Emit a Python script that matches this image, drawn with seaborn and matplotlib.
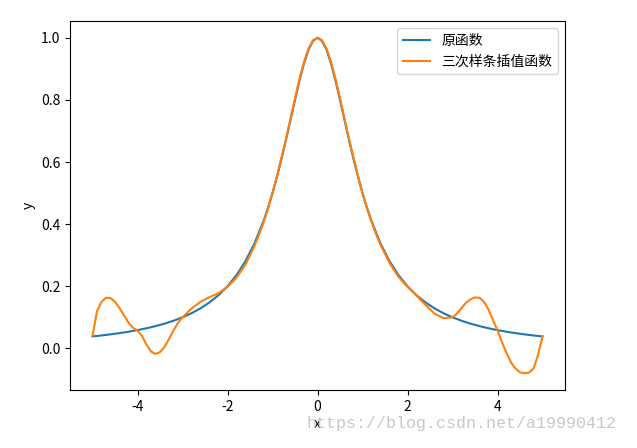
import matplotlib
matplotlib.use("Agg")
import matplotlib.pyplot as plt
import seaborn as sns

# original function
orig_x = [-5.0, -4.8, -4.6, -4.4, -4.2, -4.0, -3.8, -3.6, -3.4, -3.2,
          -3.0, -2.8, -2.6, -2.4, -2.2, -2.0, -1.8, -1.6, -1.4, -1.2,
          -1.1, -1.0, -0.9, -0.8, -0.7, -0.6, -0.5, -0.4, -0.3, -0.2, -0.1,
          0.0, 0.1, 0.2, 0.3, 0.4, 0.5, 0.6, 0.7, 0.8, 0.9, 1.0, 1.1,
          1.2, 1.4, 1.6, 1.8, 2.0, 2.2, 2.4, 2.6, 2.8,
          3.0, 3.2, 3.4, 3.6, 3.8, 4.0, 4.2, 4.4, 4.6, 4.8, 5.0]
orig_y = [0.0385, 0.0416, 0.0451, 0.0491, 0.0536, 0.0588, 0.0648, 0.0716, 0.0796, 0.0890,
          0.1000, 0.1131, 0.1289, 0.1479, 0.1712, 0.2000, 0.2358, 0.2809, 0.3378, 0.4098,
          0.4525, 0.5000, 0.5525, 0.6098, 0.6711, 0.7353, 0.8000, 0.8621, 0.9174, 0.9615, 0.9901,
          1.0000, 0.9901, 0.9615, 0.9174, 0.8621, 0.8000, 0.7353, 0.6711, 0.6098, 0.5525, 0.5000, 0.4525,
          0.4098, 0.3378, 0.2809, 0.2358, 0.2000, 0.1712, 0.1479, 0.1289, 0.1131,
          0.1000, 0.0890, 0.0796, 0.0716, 0.0648, 0.0588, 0.0536, 0.0491, 0.0451, 0.0416, 0.0385]

# spline curve
spl_x = [-5.0, -4.9, -4.8, -4.7, -4.6, -4.5, -4.4, -4.3, -4.2, -4.1,
         -4.0, -3.9, -3.8, -3.7, -3.6, -3.5, -3.4, -3.3, -3.2, -3.1,
         -3.0, -2.8, -2.6, -2.4, -2.2, -2.0, -1.8, -1.6, -1.4, -1.3, -1.2, -1.1,
         -1.0, -0.9, -0.8, -0.7, -0.6, -0.5, -0.4, -0.3, -0.2, -0.1,
         0.0, 0.1, 0.2, 0.3, 0.4, 0.5, 0.6, 0.7, 0.8, 0.9,
         1.0, 1.1, 1.2, 1.3, 1.4, 1.6, 1.8, 2.0, 2.2, 2.4, 2.6, 2.8,
         3.0, 3.1, 3.2, 3.3, 3.4, 3.5, 3.6, 3.7, 3.8, 3.9,
         4.0, 4.1, 4.2, 4.3, 4.4, 4.5, 4.6, 4.7, 4.8, 4.9, 4.95, 5.0]
spl_y = [0.039, 0.120, 0.150, 0.163, 0.162, 0.150, 0.130, 0.106, 0.083, 0.066,
         0.058, 0.040, 0.012, -0.010, -0.018, -0.012, 0.005, 0.030, 0.058, 0.082,
         0.100, 0.128, 0.150, 0.165, 0.178, 0.198, 0.228, 0.270, 0.330, 0.366, 0.405, 0.450,
         0.500, 0.555, 0.615, 0.675, 0.740, 0.805, 0.868, 0.922, 0.965, 0.992,
         1.000, 0.992, 0.965, 0.922, 0.868, 0.805, 0.740, 0.675, 0.615, 0.555,
         0.500, 0.450, 0.408, 0.368, 0.333, 0.275, 0.230, 0.198, 0.170, 0.140, 0.112, 0.097,
         0.100, 0.112, 0.130, 0.147, 0.158, 0.164, 0.163, 0.150, 0.125, 0.092,
         0.058, 0.020, -0.015, -0.045, -0.065, -0.077, -0.080, -0.078, -0.065, -0.022, 0.008, 0.039]

plt.rcParams['font.family'] = ['Noto Sans CJK SC', 'DejaVu Sans']
plt.rcParams['axes.unicode_minus'] = False

fig = plt.figure(figsize=(6.37, 4.48), dpi=100)
ax = fig.add_axes([70 / 637, 58 / 448, 495 / 637, 369 / 448])

sns.lineplot(x=orig_x, y=orig_y, ax=ax, color='#1f77b4', label='原函数', sort=False)
sns.lineplot(x=spl_x, y=spl_y, ax=ax, color='#ff7f0e', label='三次样条插值函数', sort=False)

ax.set_xticks([-4, -2, 0, 2, 4])
ax.set_yticks([0.0, 0.2, 0.4, 0.6, 0.8, 1.0])
ax.set_xlabel('x', labelpad=2)
ax.set_ylabel('y')
ax.legend(loc='upper right')

# watermark
fig.text(617 / 637, 1 - 423 / 448, 'https://blog.csdn.net/a19990412', ha='right', va='center',
         fontsize=12, color='#c8c8c8', family=['Liberation Mono'])

fig.savefig('out.png', dpi=100)
